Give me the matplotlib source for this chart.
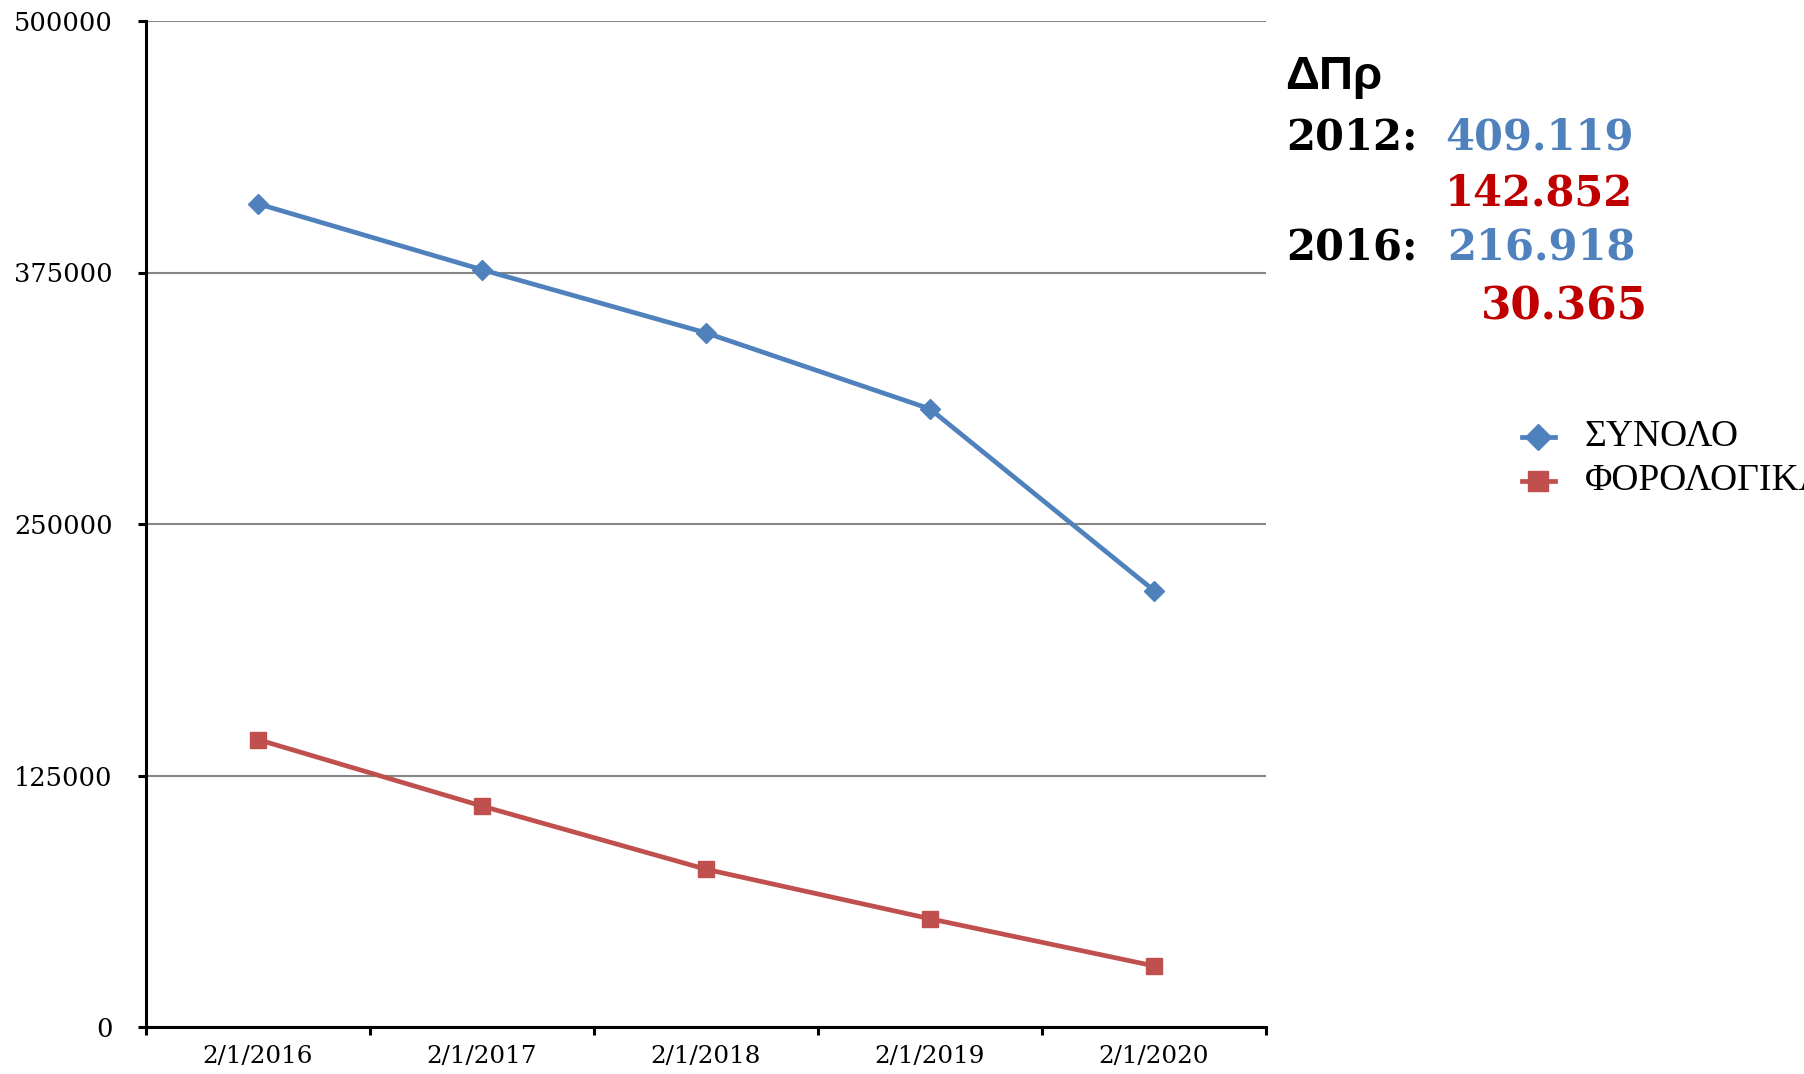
import matplotlib
matplotlib.use("Agg")
import matplotlib.pyplot as plt
from matplotlib.lines import Line2D

categories = ["2/1/2016", "2/1/2017", "2/1/2018", "2/1/2019", "2/1/2020"]
synolo = [409119, 376400, 345000, 307200, 216918]
forologika = [142852, 109800, 78400, 53800, 30365]
series_names = ["ΣΥΝΟΛΟ", "ΦΟΡΟΛΟΓΙΚΑ"]
yticks = [0, 125000, 250000, 375000, 500000]

BLUE = "#4F81BD"
RED = "#C0504D"
TXT_BLUE = "#4F81BD"
TXT_RED = "#C00000"

fig = plt.figure(figsize=(18.04, 10.74), dpi=100)
ax = fig.add_axes([146/1804, 1-1027/1074, (1266-146)/1804, (1027-21)/1074])

x = list(range(len(categories)))
ax.plot(x, synolo, color=BLUE, lw=3.4, marker="D", ms=10, mfc=BLUE, mec=BLUE, zorder=3)
ax.plot(x, forologika, color=RED, lw=3.4, marker="s", ms=11, mfc=RED, mec=RED, zorder=3)

ax.set_xlim(-0.5, len(categories)-0.5)
ax.set_ylim(0, 500000)
ax.set_yticks(yticks)
ax.set_yticklabels([str(v) for v in yticks], fontfamily="DejaVu Serif", fontsize=18.5)
ax.yaxis.grid(True, color="#868686", lw=1.5)
ax.set_axisbelow(True)

ax.set_xticks([i-0.5 for i in range(len(categories)+1)])
ax.set_xticklabels([])
ax.set_xticks(x, minor=True)
ax.set_xticklabels(categories, minor=True, fontfamily="DejaVu Serif", fontsize=17.7)
ax.tick_params(axis="x", which="major", length=6, width=2.2, direction="out")
ax.tick_params(axis="x", which="minor", length=0, pad=13)
ax.tick_params(axis="y", length=6, width=2.2, direction="out", pad=18)

for s in ["top", "right"]:
    ax.spines[s].set_visible(False)
for s in ["left", "bottom"]:
    ax.spines[s].set_linewidth(2.2)
    ax.spines[s].set_color("black")

def fx(px):
    return px/1804
def fy(py):
    return 1-py/1074

fig.text(fx(1285), fy(77), "ΔΠρ", fontfamily="Liberation Sans", fontweight="bold",
         fontsize=34, va="center", ha="left", color="black")
serif_b = dict(fontfamily="DejaVu Serif", fontweight="bold", fontsize=30, va="center", ha="left")
fig.text(fx(1286), fy(138), "2012:", color="black", **serif_b)
fig.text(fx(1445), fy(138), "409.119", color=TXT_BLUE, **serif_b)
fig.text(fx(1445), fy(193), "142.852", color=TXT_RED, **serif_b)
fig.text(fx(1286), fy(248), "2016:", color="black", **serif_b)
fig.text(fx(1447), fy(248), "216.918", color=TXT_BLUE, **serif_b)
fig.text(fx(1481), fy(307), "30.365", color=TXT_RED, fontfamily="DejaVu Serif",
         fontweight="bold", fontsize=31.5, va="center", ha="left")

# legend (manually placed; the reference crops the second label at the figure edge)
for name, col, mk, ms, yy in [(series_names[0], BLUE, "D", 13, 437),
                              (series_names[1], RED, "s", 15, 481)]:
    fig.add_artist(Line2D([fx(1522), fx(1555)], [fy(yy), fy(yy)], color=col, lw=3.4,
                          transform=fig.transFigure))
    fig.add_artist(Line2D([fx(1538)], [fy(yy)], marker=mk, ms=ms, color=col, mfc=col, mec=col,
                          transform=fig.transFigure))
    fig.text(fx(1585), fy(yy), name, fontfamily="Liberation Serif", fontsize=27,
             va="center", ha="left", color="black")

fig.savefig("out.png", dpi=100)
